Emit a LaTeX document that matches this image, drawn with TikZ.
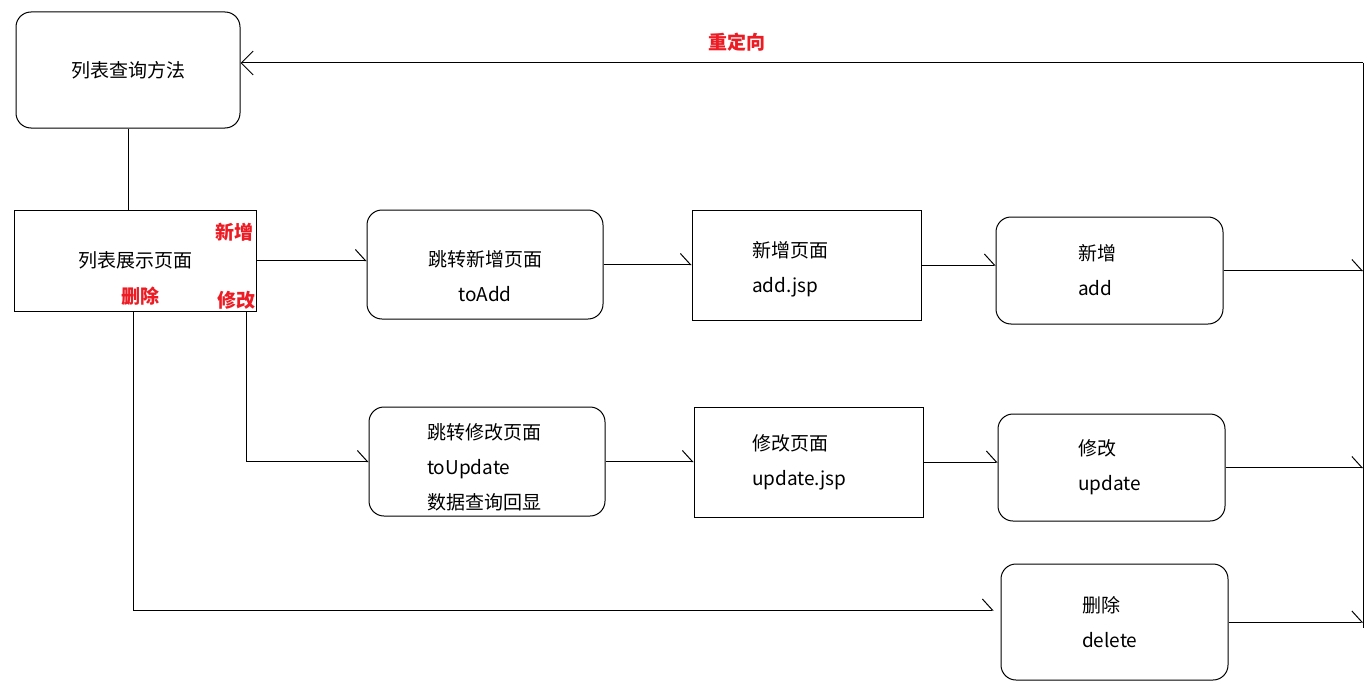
\documentclass[tikz,border=0pt]{standalone}
\usepackage{fontspec}
\setmainfont{Noto Sans CJK SC}
\usetikzlibrary{arrows.meta}
\definecolor{paintred}{RGB}{237,28,36}
\newcommand{\boxfont}{\fontsize{19pt}{35pt}\selectfont}
\newcommand{\lift}[1]{\rule{0pt}{#1}}
\tikzset{
  sbox/.style={draw,line width=1pt,inner sep=0pt,font=\boxfont,align=center},
  rbox/.style={sbox,rounded corners=15pt},
  ltxt/.style={text width=#1,align=left},
  plain/.style={line width=1pt},
  link/.style={line width=1pt,-{Straight Barb[harpoon,length=10pt,width=22pt]}},
  back/.style={line width=1pt,-{Straight Barb[length=12pt,width=24pt]}},
  rlab/.style={text=paintred,font=\fontsize{19pt}{22pt}\selectfont\bfseries,inner sep=0pt}
}
\begin{document}
\begin{tikzpicture}[x=1pt,y=-1pt]
  \useasboundingbox (0,0) rectangle (1370,693);
  \node[rbox,minimum width=224pt,minimum height=116pt] (A) at (128,70) {列表查询方法};
  \node[sbox,minimum width=242pt,minimum height=101pt] (B) at (135,260.5) {列表展示页面};
  \node[rbox,minimum width=236pt,minimum height=109pt] (C) at (485,264.5) {\lift{39pt}跳转新增页面\\toAdd};
  \node[sbox,ltxt=109pt,minimum width=229pt,minimum height=110pt] (D) at (806.5,265) {\lift{25pt}新增页面\\add.jsp};
  \node[rbox,ltxt=63pt,minimum width=227pt,minimum height=107pt] (E) at (1109.5,270.5) {新增\\add};
  \node[rbox,ltxt=120pt,minimum width=236pt,minimum height=109pt] (F) at (487,461.5) {\lift{27pt}跳转修改页面\\toUpdate\\数据查询回显};
  \node[sbox,ltxt=113pt,minimum width=229pt,minimum height=110pt] (G) at (808.5,462) {修改页面\\update.jsp};
  \node[rbox,ltxt=67pt,minimum width=227pt,minimum height=107pt] (H) at (1111.5,467.5) {修改\\update};
  \node[rbox,ltxt=65pt,minimum width=227pt,minimum height=116pt] (I) at (1114.5,622) {删除\\delete};
  \node[rlab] (addlab) at (234,232) {新增};
  \node[rlab] (dellab) at (140,296) {删除};
  \node[rlab] (updlab) at (236,300) {修改};
  \node[rlab] (redir) at (737,42) {重定向};
  \coordinate (bustop) at (1363,63);
  \coordinate (busbot) at (1363,628);
  \draw[plain] (A.south) -- (A.south |- B.north);
  \draw[link] (B.east) -- (B.east -| C.west);
  \draw[link] (C.east) -- (C.east -| D.west);
  \draw[link] (D.east) -- (D.east -| E.west);
  \draw[link] (E.east) -- (E.east -| bustop);
  \draw[link] ([xshift=-10pt]B.south east) |- (F.west);
  \draw[link] (F.east) -- (F.east -| G.west);
  \draw[link] (G.east) -- (G.east -| H.west);
  \draw[link] (H.east) -- (H.east -| bustop);
  \draw[link,shorten >=7pt] ([xshift=-2pt]B.south) |- ([yshift=12pt]I.west);
  \draw[link] (I.east) -- (I.east -| bustop);
  \draw[plain] (bustop) -- (busbot);
  \draw[back] (bustop) -- (bustop -| A.east);
\end{tikzpicture}
\end{document}
